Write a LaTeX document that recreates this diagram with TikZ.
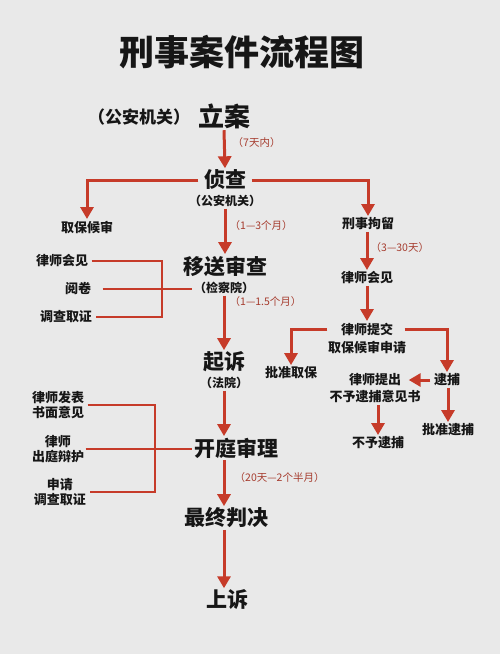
\documentclass[tikz,border=0pt]{standalone}
\usepackage{fontspec}
\newfontfamily\cjk{Noto Sans CJK SC}
\usetikzlibrary{arrows.meta,calc}
\definecolor{bg}{HTML}{E9E9E9}
\definecolor{rl}{HTML}{C63B29}
\definecolor{labc}{HTML}{A63C2E}
\definecolor{ink}{HTML}{161616}
\begin{document}
\begin{tikzpicture}[x=1pt,y=-1pt,
  every node/.style={inner sep=1.5pt, text=ink, font=\cjk},
  big/.style={font=\cjk\bfseries\fontsize{21}{24}\selectfont},
  sub/.style={font=\cjk\bfseries\fontsize{12}{14}\selectfont},
  sm/.style={font=\cjk\bfseries\fontsize{13}{15}\selectfont, align=center},
  lab/.style={font=\cjk\fontsize{10.5}{12}\selectfont, text=labc, anchor=west},
  arr/.style={draw=rl, line width=3pt, -{Triangle[width=13pt,length=12pt]}},
  ln/.style={draw=rl, line width=2.8pt},
]
\fill[bg] (0,0) rectangle (500,654);

% title
\node[font=\cjk\bfseries\fontsize{35}{38}\selectfont] (title) at (242,52) {刑事案件流程图};

% main trunk
\node[font=\cjk\bfseries\fontsize{26}{28}\selectfont] (la) at (224,116) {立案};
\node[font=\cjk\bfseries\fontsize{17}{19}\selectfont, anchor=east, inner sep=0pt] (gaj) at ([xshift=-6pt,yshift=-1pt]la.west) {（公安机关）};
\node[big] (zc) at (225,180) {侦查};
\node[sub] (zcs) at (225,201) {（公安机关）};
\node[big] (ys) at (225,266) {移送审查};
\node[sub] (jcy) at (224,288) {（检察院）};
\node[big] (qs) at (224,362) {起诉};
\node[sub] (fy) at (224,383) {（法院）};
\node[big] (kt) at (236,448) {开庭审理};
\node[big] (zz) at (226,518) {最终判决};
\node[big] (ss) at (227,600) {上诉};

\draw[arr] (la.south) -- (zc.north);
\draw[arr] (zcs.south -| zc) -- (ys.north);
\draw[arr] (jcy.south) -- (qs.north);
\draw[arr] (fy.south) -- (kt.north -| fy);
\draw[arr] (kt.south -| fy) -- (zz.north -| fy);
\draw[arr] (zz.south -| fy) -- (ss.north -| fy);

\node[lab] (l1) at (231,143) {（7天内）};
\node[lab] (l2) at (228,226) {（1—3个月）};
\node[lab] (l3) at (228,302) {（1—1.5个月）};
\node[lab] (l4) at (233,478) {（20天—2个半月）};

% left branch from 侦查
\node[sm] (qbhs) at (87,227) {取保候审};
\draw[arr] ([xshift=-4pt]zc.west) -| (qbhs.north);

% left bracket 1
\node[sm] (lshj) at (62,261) {律师会见};
\node[sm] (yj) at (78,289) {阅卷};
\node[sm] (dcqz) at (66,317) {调查取证};
\coordinate (b1) at (162,0);
\draw[ln] ([xshift=2pt]lshj.east) -| (b1 |- dcqz.east) -- ([xshift=2pt]dcqz.east);
\draw[ln] ([xshift=10pt]yj.east) -- (yj.east -| jcy.west);

% left bracket 2
\node[sm] (fb) at (58,405) {律师发表\\书面意见};
\node[sm] (cz) at (58,449) {律师\\出庭辩护};
\node[sm] (sq) at (60,492) {申请\\调查取证};
\coordinate (b2) at (155,0);
\draw[ln] ([xshift=2pt]fb.east) -| (b2 |- sq.east) -- ([xshift=2pt]sq.east);
\draw[ln] (cz.east) -- (cz.east -| kt.west);

% right branch
\node[sm] (xsjl) at (368,224) {刑事拘留};
\draw[arr] ([xshift=4pt]zc.east) -| (xsjl.north);
\node[sm] (lshj2) at (367,278) {律师会见};
\draw[arr] (xsjl.south -| lshj2) -- (lshj2.north);
\node[lab] (l5) at (369,248) {（3—30天）};
\node[sm] (tj1) at (367,329) {律师提交};
\node[sm] (tj2) at (367,347) {取保候审申请};
\draw[arr] (lshj2.south) -- (tj1.north);
\node[sm] (pzqb) at (291,373) {批准取保};
\node[sm] (db) at (447,380) {逮捕};
\draw[arr] ([xshift=-12pt]tj1.west) -| (pzqb.north);
\draw[arr] ([xshift=10pt]tj1.east) -| (db.north);
\node[sm] (tc1) at (375,380) {律师提出};
\node[sm] (tc2) at (375,397) {不予逮捕意见书};
\draw[arr] ([xshift=-2pt]db.west) -- ([xshift=6pt]tc1.east);
\node[sm] (bydb) at (378,443) {不予逮捕};
\draw[arr] (tc2.south -| bydb) -- (bydb.north);
\node[sm] (pzdb) at (448,430) {批准逮捕};
\draw[arr] (db.south -| pzdb) -- (pzdb.north);
\end{tikzpicture}
\end{document}
